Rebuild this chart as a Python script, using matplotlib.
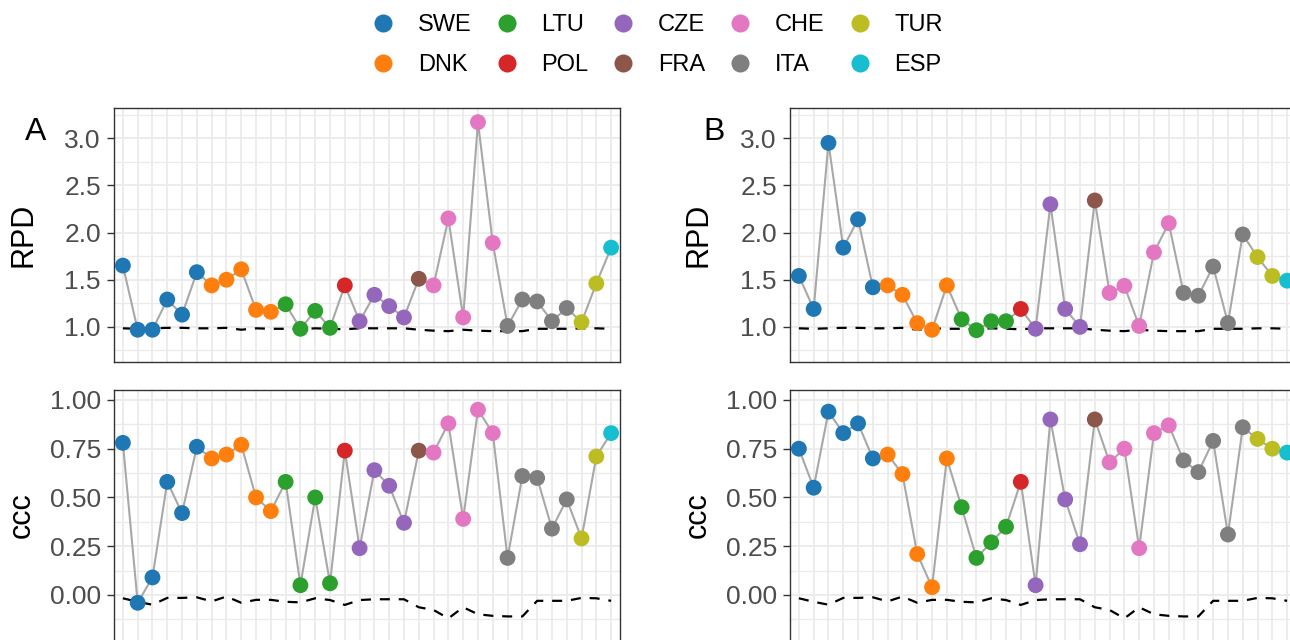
import numpy as np
import matplotlib
matplotlib.use('Agg')
import matplotlib.pyplot as plt
from matplotlib.lines import Line2D
from matplotlib.ticker import MultipleLocator, FormatStrFormatter

plt.rcParams['font.family'] = ['Liberation Sans', 'DejaVu Sans']

# ---------------- data ----------------
country_order = ['SWE', 'DNK', 'LTU', 'POL', 'CZE', 'FRA', 'CHE', 'ITA', 'TUR', 'ESP']
country_colors = ['#1f77b4', '#ff7f0e', '#2ca02c', '#d62728', '#9467bd',
                  '#8c564b', '#e377c2', '#7f7f7f', '#bcbd22', '#17becf']
sample_country = (['SWE'] * 6 + ['DNK'] * 5 + ['LTU'] * 4 + ['POL'] + ['CZE'] * 4 +
                  ['FRA'] + ['CHE'] * 5 + ['ITA'] * 5 + ['TUR'] * 2 + ['ESP'])

rpd_A = [1.65, 0.97, 0.97, 1.29, 1.13, 1.58, 1.44, 1.50, 1.61, 1.18, 1.16, 1.24,
         0.98, 1.17, 0.99, 1.44, 1.06, 1.34, 1.22, 1.10, 1.51, 1.44, 2.15, 1.10,
         3.17, 1.89, 1.01, 1.29, 1.27, 1.06, 1.20, 1.05, 1.46, 1.84]
ccc_A = [0.78, -0.04, 0.09, 0.58, 0.42, 0.76, 0.70, 0.72, 0.77, 0.50, 0.43, 0.58,
         0.05, 0.50, 0.06, 0.74, 0.24, 0.64, 0.56, 0.37, 0.74, 0.73, 0.88, 0.39,
         0.95, 0.83, 0.19, 0.61, 0.60, 0.34, 0.49, 0.29, 0.71, 0.83]
rpd_B = [1.54, 1.19, 2.95, 1.84, 2.14, 1.42, 1.44, 1.34, 1.04, 0.97, 1.44, 1.08,
         0.965, 1.06, 1.06, 1.19, 0.98, 2.30, 1.19, 1.00, 2.34, 1.36, 1.435, 1.01,
         1.79, 2.10, 1.36, 1.33, 1.64, 1.04, 1.98, 1.74, 1.54, 1.49]
ccc_B = [0.75, 0.55, 0.94, 0.83, 0.88, 0.70, 0.72, 0.62, 0.21, 0.04, 0.70, 0.45,
         0.19, 0.27, 0.35, 0.58, 0.05, 0.90, 0.49, 0.26, 0.90, 0.68, 0.75, 0.24,
         0.83, 0.87, 0.69, 0.63, 0.79, 0.31, 0.86, 0.80, 0.75, 0.73]

rpd_base = [0.985, 0.98, 0.985, 0.99, 0.99, 0.985, 0.985, 0.99, 0.97, 0.985, 0.98, 0.98,
            0.975, 0.985, 0.98, 0.975, 0.985, 0.985, 0.985, 0.985, 0.97, 0.96, 0.955, 0.97,
            0.96, 0.955, 0.955, 0.955, 0.98, 0.98, 0.98, 0.985, 0.985, 0.98]
ccc_base = [-0.017, -0.035, -0.05, -0.015, -0.015, -0.012, -0.033, -0.008, -0.04, -0.025,
            -0.025, -0.035, -0.038, -0.017, -0.026, -0.051, -0.026, -0.022, -0.022, -0.022,
            -0.063, -0.077, -0.12, -0.063, -0.099, -0.107, -0.11, -0.11, -0.03, -0.03,
            -0.03, -0.015, -0.017, -0.03]

# ---------------- figure ----------------
W, H = 1290, 640
fig = plt.figure(figsize=(W / 100, H / 100), dpi=100)


def px_axes(l, t, r, b):
    return fig.add_axes([l / W, 1 - b / H, (r - l) / W, (b - t) / H])


color_map = dict(zip(country_order, country_colors))
point_colors = [color_map[c] for c in sample_country]
x = np.arange(1, len(sample_country) + 1)


def draw_panel(ax, vals, base, ylim, major, minor, fmt, ylabel, label_x):
    ax.set_xlim(0.4, len(x) + 0.6)
    ax.set_ylim(*ylim)
    ax.set_xticks(x)
    ax.tick_params(axis='x', length=0, labelbottom=False)
    ax.yaxis.set_major_locator(MultipleLocator(major))
    ax.yaxis.set_minor_locator(MultipleLocator(minor))
    ax.yaxis.set_major_formatter(FormatStrFormatter(fmt))
    ax.tick_params(axis='y', which='major', length=5, width=1.0, color='#333333',
                   labelsize=19, labelcolor='#4d4d4d', pad=4.5)
    ax.tick_params(axis='y', which='minor', length=0)
    ax.grid(axis='x', which='major', color='#ebebeb', lw=1.3)
    ax.grid(axis='y', which='major', color='#ebebeb', lw=1.3)
    ax.grid(axis='y', which='minor', color='#ebebeb', lw=0.9)
    ax.set_axisbelow(True)
    for s in ax.spines.values():
        s.set_color('#333333')
        s.set_linewidth(1.0)
    ax.plot(x, vals, color='#a8a8a8', lw=1.5, zorder=2)
    ax.plot(x, base, color='black', lw=1.6, dashes=(4.5, 4), zorder=3)
    ax.scatter(x, vals, c=point_colors, s=130, linewidths=0, zorder=4)
    ax.set_ylabel(ylabel, fontsize=22, color='black', va='center')
    ax.yaxis.set_label_coords(label_x, 0.5)


axA1 = px_axes(114, 108, 620, 362)
axA2 = px_axes(114, 390, 620, 641)
axB1 = px_axes(790, 108, 1296, 362)
axB2 = px_axes(790, 390, 1296, 641)

draw_panel(axA1, rpd_A, rpd_base, (0.628, 3.32), 0.5, 0.25, '%.1f', 'RPD', -0.178)
draw_panel(axA2, ccc_A, ccc_base, (-0.236, 1.051), 0.25, 0.125, '%.2f', 'ccc', -0.182)
draw_panel(axB1, rpd_B, rpd_base, (0.628, 3.32), 0.5, 0.25, '%.1f', 'RPD', -0.180)
draw_panel(axB2, ccc_B, ccc_base, (-0.236, 1.051), 0.25, 0.125, '%.2f', 'ccc', -0.183)

fig.text(25 / W, 1 - 140 / H, 'A', fontsize=23, ha='left', va='baseline')
fig.text(703 / W, 1 - 140 / H, 'B', fontsize=23, ha='left', va='baseline')

handles = [Line2D([], [], marker='o', ls='', color=c, markersize=13, markeredgewidth=0)
           for c in country_colors]
fig.legend(handles, country_order, ncol=5, loc='center left',
           bbox_to_anchor=(372 / W, 1 - 45 / H), frameon=False, fontsize=17,
           handlelength=0.95, handletextpad=1.0, columnspacing=1.0,
           labelspacing=0.78, borderpad=0, borderaxespad=0)

fig.savefig('out.png', dpi=100)
